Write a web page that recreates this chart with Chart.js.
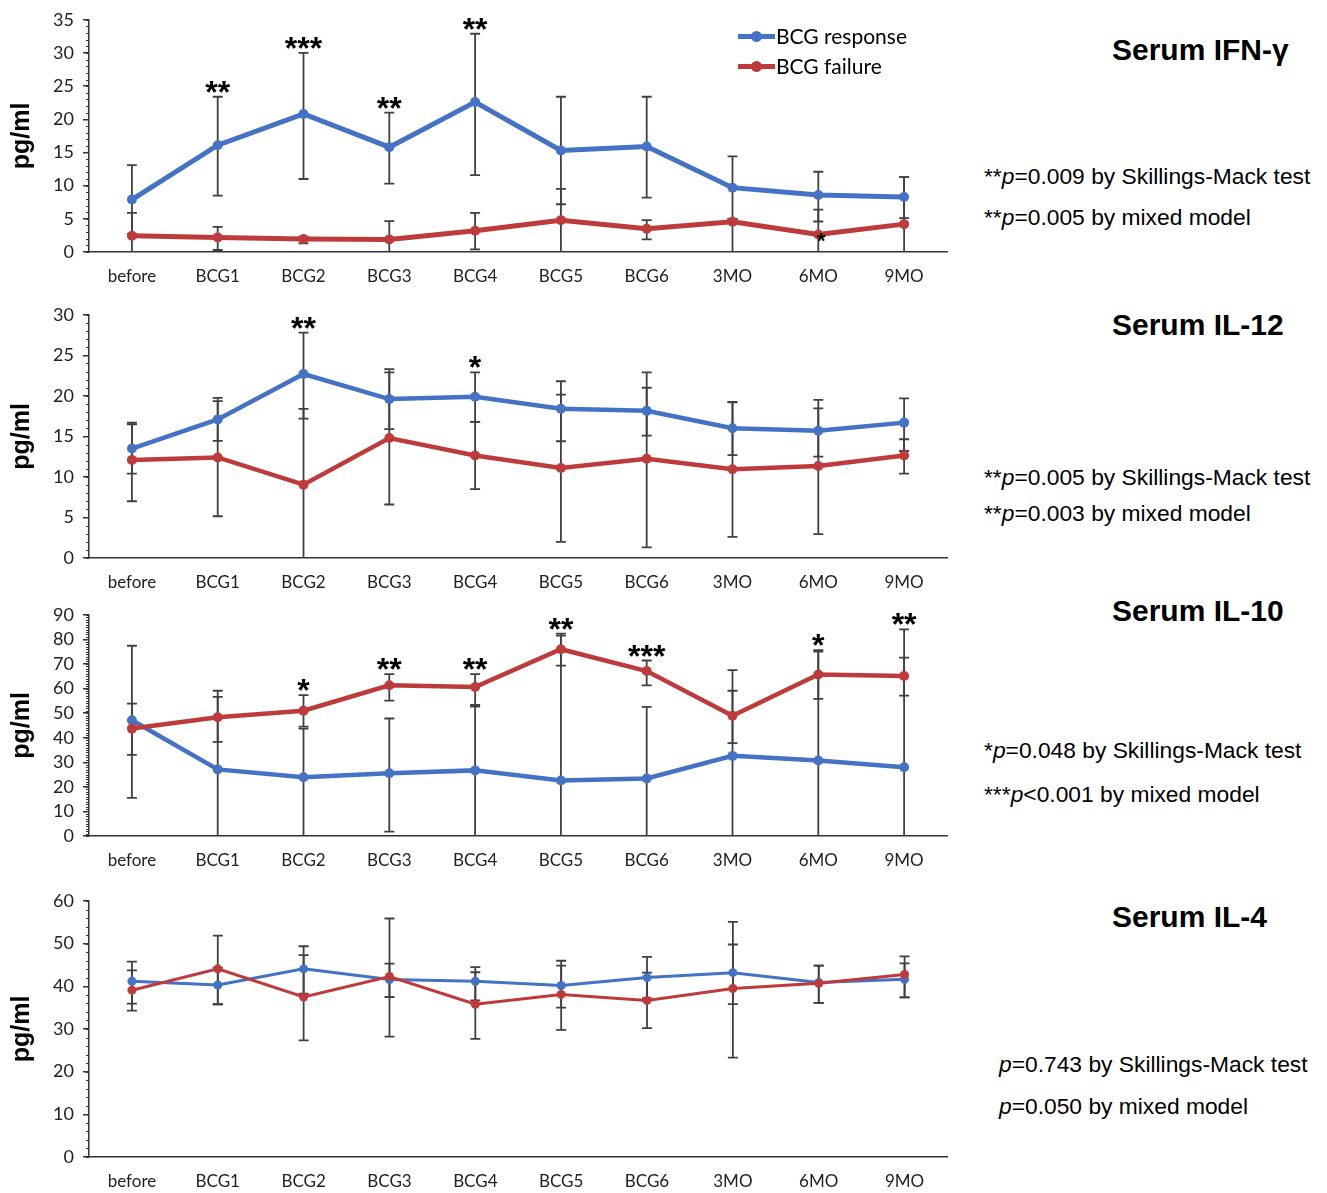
<!DOCTYPE html>
<html>
<head>
<meta charset="utf-8">
<script src="https://cdn.jsdelivr.net/npm/chart.js@4.4.1/dist/chart.umd.min.js"></script>
<style>
  body { margin: 0; background: #fff; width: 1327px; height: 1193px; position: relative; overflow: hidden; font-family: "Liberation Sans", Arial, sans-serif; }
  canvas { position: absolute; left: 0; }
  .title { position: absolute; left: 1112px; font-weight: bold; font-size: 30px; line-height: 1; white-space: nowrap; }
  .note { position: absolute; left: 984px; font-size: 22.8px; line-height: 1; white-space: nowrap; }
  .leg { position: absolute; left: 776px; font-family: Lato, sans-serif; font-size: 21px; line-height: 1; white-space: nowrap; }
  .mark { position: absolute; left: 738px; width: 37px; height: 5px; }
  .mark i { position: absolute; left: 13px; top: -3px; width: 11px; height: 11px; border-radius: 50%; background: inherit; }
</style>
</head>
<body>

<canvas id="ifn" width="952" height="292" style="top:0"></canvas>
<canvas id="il12" width="952" height="300" style="top:295px"></canvas>
<canvas id="il10" width="952" height="281" style="top:595px"></canvas>
<canvas id="il4" width="952" height="313" style="top:880px"></canvas>

<div class="mark" style="top:34px;background:#4472C4"><i></i></div>
<div class="leg" style="top:25px">BCG response</div>
<div class="mark" style="top:64px;background:#BE3B3B"><i></i></div>
<div class="leg" style="top:55px">BCG failure</div>

<div class="title" style="top:35px">Serum IFN-γ</div>
<div class="note" style="top:165px">**<i>p</i>=0.009 by Skillings-Mack test</div>
<div class="note" style="top:206px">**<i>p</i>=0.005 by mixed model</div>

<div class="title" style="top:310px">Serum IL-12</div>
<div class="note" style="top:466px">**<i>p</i>=0.005 by Skillings-Mack test</div>
<div class="note" style="top:502px">**<i>p</i>=0.003 by mixed model</div>

<div class="title" style="top:596px">Serum IL-10</div>
<div class="note" style="top:739px">*<i>p</i>=0.048 by Skillings-Mack test</div>
<div class="note" style="top:783px">***<i>p</i>&lt;0.001 by mixed model</div>

<div class="title" style="top:902px">Serum IL-4</div>
<div class="note" style="top:1053px;left:999px"><i>p</i>=0.743 by Skillings-Mack test</div>
<div class="note" style="top:1095px;left:999px"><i>p</i>=0.050 by mixed model</div>

<script>
const labels = ['before', 'BCG1', 'BCG2', 'BCG3', 'BCG4', 'BCG5', 'BCG6', '3MO', '6MO', '9MO'];

// Serum IFN-gamma
const ifnResp   = [7.9, 16.1, 20.8, 15.8, 22.6, 15.3, 15.9, 9.7, 8.6, 8.3];
const ifnRespHi = [13.1, 23.4, 30.0, 21.0, 32.9, 23.4, 23.4, 14.4, 12.1, 11.3];
const ifnRespLo = [2.7, 8.5, 11.0, 10.3, 11.6, 7.2, 8.2, 5.0, 4.6, 5.1];
const ifnFail   = [2.45, 2.2, 1.95, 1.9, 3.2, 4.8, 3.5, 4.55, 2.65, 4.2];
const ifnFailHi = [5.9, 3.8, 2.3, 4.65, 5.9, 9.5, 4.8, 5.0, 6.4, 11.3];
const ifnFailLo = [-1, 0.3, 1.3, -1, 0.4, -1, 1.9, -1, -1, -1];
const ifnStars  = ['', '**', '***', '**', '**', '', '', '', '', ''];
const ifnFailNote = ['', '', '', '', '', '', '', '', '*', ''];

// Serum IL-12
const il12Resp   = [13.5, 17.1, 22.7, 19.6, 19.9, 18.4, 18.15, 16.0, 15.7, 16.7];
const il12RespHi = [16.5, 19.75, 27.8, 23.3, 22.9, 21.8, 21.0, 19.25, 18.45, 19.7];
const il12RespLo = [10.4, 14.45, 17.2, 15.9, 16.8, 14.4, 15.1, 12.7, 12.5, 13.2];
const il12Fail   = [12.1, 12.4, 9.05, 14.8, 12.65, 11.1, 12.25, 10.95, 11.35, 12.65];
const il12FailHi = [16.7, 19.35, 18.4, 22.9, 16.8, 20.15, 22.9, 19.2, 19.5, 14.65];
const il12FailLo = [7.0, 5.15, -1, 6.6, 8.5, 2.0, 1.3, 2.6, 2.95, 10.4];
const il12Stars  = ['', '', '**', '', '*', '', '', '', '', ''];

// Serum IL-10
const il10Resp   = [47.1, 27.1, 23.9, 25.5, 26.7, 22.6, 23.4, 32.6, 30.7, 28.0];
const il10RespHi = [77.4, 56.6, 43.7, 47.8, 52.7, 81.5, 52.5, 67.5, 75.0, 84.1];
const il10RespLo = [15.5, -2, -2, 1.8, -2, -2, -2, -2, -2, -2];
const il10Fail   = [43.7, 48.3, 51.0, 61.3, 60.6, 76.0, 67.1, 48.9, 65.7, 65.1];
const il10FailHi = [53.9, 59.1, 57.3, 65.9, 65.9, 82.3, 71.4, 59.1, 75.6, 72.6];
const il10FailLo = [33.0, 38.3, 44.5, 55.1, 53.3, 69.3, 61.3, 37.8, 55.8, 57.1];
const il10Stars  = ['', '', '*', '**', '**', '**', '***', '', '*', '**'];

// Serum IL-4
const il4Resp   = [41.2, 40.3, 44.1, 41.6, 41.2, 40.2, 42.05, 43.2, 40.9, 41.65];
const il4RespHi = [45.8, 44.4, 49.4, 45.3, 44.5, 44.85, 46.9, 49.8, 44.85, 45.4];
const il4RespLo = [35.95, 35.8, 38.3, 37.5, 36.7, 35.0, 37.2, 35.85, 36.1, 37.4];
const il4Fail   = [39.1, 44.1, 37.5, 42.3, 35.8, 38.1, 36.7, 39.5, 40.7, 42.8];
const il4FailHi = [43.75, 51.9, 47.3, 55.9, 43.3, 46.0, 43.2, 55.1, 44.85, 47.0];
const il4FailLo = [34.3, 35.8, 27.35, 28.2, 27.7, 29.8, 30.2, 23.3, 36.1, 37.4];
const il4Stars  = ['', '', '', '', '', '', '', '', '', ''];

const BLUE = '#4472C4';
const RED = '#BE3B3B';
const AXIS = '#333';

// error bars, significance stars and minor y ticks
const extras = {
  id: 'extras',
  beforeDatasetsDraw(chart, args, o) {
    const { ctx, chartArea: a, scales: { x, y } } = chart;
    ctx.save();
    ctx.beginPath();
    ctx.rect(a.left, a.top - 8, a.right - a.left, a.bottom - a.top + 8);
    ctx.clip();
    ctx.strokeStyle = '#404040';
    ctx.lineWidth = 1.8;
    o.bars.forEach(([hi, lo]) => hi.forEach((h, i) => {
      const px = x.getPixelForValue(i);
      const top = y.getPixelForValue(h);
      const bot = y.getPixelForValue(lo[i]);
      ctx.beginPath();
      ctx.moveTo(px, top); ctx.lineTo(px, bot);
      ctx.moveTo(px - 5, top); ctx.lineTo(px + 5, top);
      ctx.moveTo(px - 5, bot); ctx.lineTo(px + 5, bot);
      ctx.stroke();
    }));
    ctx.restore();
  },
  afterDatasetsDraw(chart, args, o) {
    const { ctx, scales: { x, y } } = chart;
    ctx.save();
    ctx.fillStyle = '#000';
    ctx.textAlign = 'center';
    ctx.textBaseline = 'alphabetic';
    ctx.font = 'bold 32px "Liberation Sans"';
    o.stars.forEach((s, i) => {
      if (!s) return;
      const top = Math.min(...o.bars.map(([hi]) => y.getPixelForValue(hi[i])));
      ctx.fillText(s, x.getPixelForValue(i), top + 6);
    });
    if (o.notes) {
      ctx.font = 'bold 22px "Liberation Sans"';
      o.notes.forEach((s, i) => {
        if (!s) return;
        ctx.fillText(s, x.getPixelForValue(i) + 3, y.getPixelForValue(o.noteAt[i]) + 14);
      });
    }
    ctx.restore();
  },
  afterDraw(chart, args, o) {
    const { ctx, chartArea: a, scales: { y } } = chart;
    ctx.save();
    ctx.strokeStyle = AXIS;
    ctx.lineWidth = 1;
    ctx.beginPath();
    for (let v = y.min; v <= y.max + 1e-9; v += o.minor) {
      const py = Math.round(y.getPixelForValue(v)) + 0.5;
      ctx.moveTo(a.left - 3, py);
      ctx.lineTo(a.left, py);
    }
    ctx.stroke();
    ctx.restore();
  }
};
Chart.register(extras);

function panel(id, p) {
  return new Chart(document.getElementById(id), {
    type: 'line',
    data: {
      labels: labels,
      datasets: [
        {
          label: 'BCG response',
          data: p.resp,
          borderColor: BLUE,
          backgroundColor: BLUE,
          borderWidth: p.lw,
          pointRadius: p.pr,
          pointBorderWidth: 0,
          order: 1
        },
        {
          label: 'BCG failure',
          data: p.fail,
          borderColor: RED,
          backgroundColor: RED,
          borderWidth: p.lw,
          pointRadius: p.pr,
          pointBorderWidth: 0,
          order: 0
        }
      ]
    },
    options: {
      responsive: false,
      animation: false,
      events: [],
      layout: { padding: { top: p.padTop, right: 2, left: 0, bottom: 0 } },
      plugins: {
        legend: { display: false },
        tooltip: { enabled: false },
        extras: { bars: p.bars, stars: p.stars, minor: p.minor, notes: p.notes, noteAt: p.noteAt }
      },
      scales: {
        x: {
          offset: true,
          grid: { display: false, drawTicks: false },
          border: { color: AXIS, width: 1.5 },
          ticks: { color: '#222', font: { family: 'Lato', size: 17 }, padding: 14, maxRotation: 0, autoSkip: false },
          afterFit: s => { s.height = p.xh; }
        },
        y: {
          min: 0,
          max: p.max,
          ticks: { stepSize: p.step, autoSkip: false, color: '#222', font: { family: 'Lato', size: 18 }, padding: 9 },
          grid: { drawOnChartArea: false, drawTicks: true, tickLength: 6, color: AXIS, lineWidth: 1.5 },
          border: { color: AXIS, width: 1.5 },
          title: {
            display: true,
            text: 'pg/ml',
            color: '#000',
            font: { family: 'Liberation Sans', size: 25, weight: 'bold' },
            padding: { top: 7, bottom: 0 }
          },
          afterFit: s => { s.width = 89; }
        }
      }
    }
  });
}

panel('ifn', {
  resp: ifnResp, fail: ifnFail,
  bars: [[ifnRespHi, ifnRespLo], [ifnFailHi, ifnFailLo]],
  stars: ifnStars, notes: ifnFailNote, noteAt: ifnFail,
  max: 35, step: 5, minor: 1, lw: 5, pr: 5, padTop: 19, xh: 40
});
panel('il12', {
  resp: il12Resp, fail: il12Fail,
  bars: [[il12RespHi, il12RespLo], [il12FailHi, il12FailLo]],
  stars: il12Stars,
  max: 30, step: 5, minor: 1, lw: 4.5, pr: 5, padTop: 18, xh: 37
});
panel('il10', {
  resp: il10Resp, fail: il10Fail,
  bars: [[il10RespHi, il10RespLo], [il10FailHi, il10FailLo]],
  stars: il10Stars,
  max: 90, step: 10, minor: 1, lw: 4.5, pr: 5, padTop: 17, xh: 40
});
panel('il4', {
  resp: il4Resp, fail: il4Fail,
  bars: [[il4RespHi, il4RespLo], [il4FailHi, il4FailLo]],
  stars: il4Stars,
  max: 60, step: 10, minor: 2, lw: 3, pr: 4.5, padTop: 21, xh: 36
});
</script>
</body>
</html>
